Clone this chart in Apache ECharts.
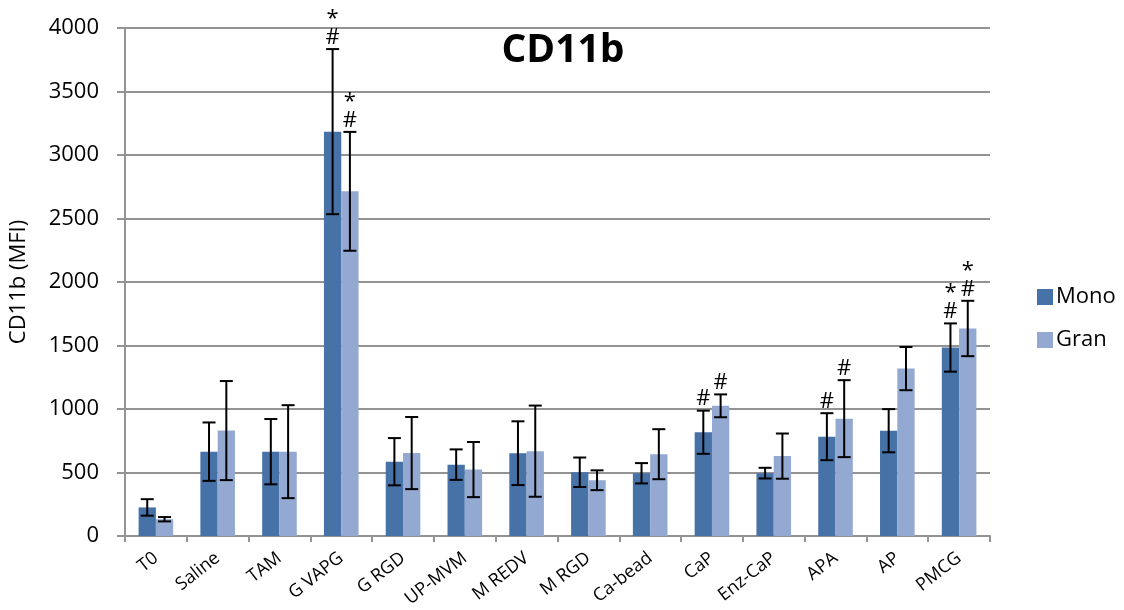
<!DOCTYPE html>
<html>
<head>
<meta charset="utf-8">
<script src="https://cdn.jsdelivr.net/npm/echarts@6/dist/echarts.min.js"></script>
<style>
html,body{margin:0;padding:0;background:#fff;}
#chart{width:1124px;height:610px;}
</style>
</head>
<body>
<div id="chart"></div>
<script>
const categories = ['T0','Saline','TAM','G VAPG','G RGD','UP-MVM','M REDV','M RGD','Ca-bead','CaP','Enz-CaP','APA','AP','PMCG'];
const monoMean = [225,664,664,3184,585,562,652,502,494,817,495,782,829,1484];
const monoErr  = [65,230,257,650,186,120,251,116,80,170,42,185,170,190];
const granMean = [132,830,664,2714,653,523,668,439,644,1025,629,924,1318,1634];
const granErr  = [17,390,366,468,284,217,359,78,197,90,178,303,170,218];
const monoMarks = ['','','','*\n#','','','','','','#','','#','','*\n#'];
const granMarks = ['','','','*\n#','','','','','','#','','#','','*\n#'];
const yTicks = [0,500,1000,1500,2000,2500,3000,3500,4000];

const FONT = 'Open Sans';
const BAR_FRAC = 0.28;
const monoColor = '#4672A8';
const granColor = '#94A9D1';
const gridColor = '#939393';

function errSeries(name, means, errs, marks, side) {
  return {
    type: 'custom',
    name: name + ' err',
    z: 10,
    silent: true,
    data: means.map((m, i) => [i, m + errs[i], m - errs[i]]),
    renderItem: function (params, api) {
      const i = api.value(0);
      const top = api.coord([i, api.value(1)]);
      const bot = api.coord([i, api.value(2)]);
      const band = api.size([1, 0])[0];
      const w = band * BAR_FRAC;
      const x = top[0] + side * w / 2;
      const cap = 6.5;
      const st = { stroke: '#000', lineWidth: 2 };
      const children = [
        { type: 'line', shape: { x1: x, y1: top[1], x2: x, y2: bot[1] }, style: st },
        { type: 'line', shape: { x1: x - cap, y1: top[1], x2: x + cap, y2: top[1] }, style: st },
        { type: 'line', shape: { x1: x - cap, y1: bot[1], x2: x + cap, y2: bot[1] }, style: st }
      ];
      const mk = marks[params.dataIndex];
      if (mk) {
        children.push({
          type: 'text',
          style: {
            text: mk, x: x, y: top[1] - 2,
            align: 'center', verticalAlign: 'bottom',
            fontSize: 22, lineHeight: 19, fontFamily: FONT, fill: '#000'
          }
        });
      }
      return { type: 'group', children: children };
    }
  };
}

const chart = echarts.init(document.getElementById('chart'), null, { renderer: 'canvas' });
chart.setOption({
  animation: false,
  backgroundColor: '#fff',
  title: {
    text: 'CD11b',
    left: 558, top: 26, textAlign: 'center',
    textStyle: { fontFamily: FONT, fontWeight: 'bold', fontSize: 39, color: '#000' }
  },
  legend: {
    orient: 'vertical',
    left: 1032, top: 281,
    itemWidth: 16, itemHeight: 16, itemGap: 21,
    icon: 'rect',
    data: ['Mono', 'Gran'],
    textStyle: { fontFamily: FONT, fontSize: 22, color: '#000', padding: [0, 0, 0, -2] }
  },
  grid: { left: 124, right: 134, top: 28, bottom: 74, containLabel: false },
  xAxis: {
    type: 'category',
    data: categories,
    axisLine: { lineStyle: { color: gridColor, width: 2 } },
    axisTick: { show: true, length: 6, lineStyle: { color: gridColor, width: 2 } },
    axisLabel: { rotate: 38, fontFamily: FONT, fontSize: 18, color: '#000', margin: 20 }
  },
  yAxis: {
    type: 'value',
    min: 0, max: 4000, interval: 500,
    name: 'CD11b (MFI)', nameLocation: 'middle', nameGap: 95,
    nameTextStyle: { fontFamily: FONT, fontSize: 22, color: '#000' },
    axisLine: { show: true, lineStyle: { color: gridColor, width: 2 } },
    axisTick: { show: true, length: 8, lineStyle: { color: gridColor, width: 2 } },
    axisLabel: {
      fontFamily: FONT, fontSize: 22, color: '#000', margin: 26,
      formatter: v => (yTicks.indexOf(v) >= 0 ? String(v) : '')
    },
    splitLine: { show: true, lineStyle: { color: gridColor, width: 2 } }
  },
  series: [
    { type: 'bar', name: 'Mono', data: monoMean, barWidth: (BAR_FRAC * 100) + '%', barGap: '0%', itemStyle: { color: monoColor } },
    { type: 'bar', name: 'Gran', data: granMean, barWidth: (BAR_FRAC * 100) + '%', barGap: '0%', itemStyle: { color: granColor } },
    errSeries('Mono', monoMean, monoErr, monoMarks, -1),
    errSeries('Gran', granMean, granErr, granMarks, 1)
  ]
});
</script>
</body>
</html>
